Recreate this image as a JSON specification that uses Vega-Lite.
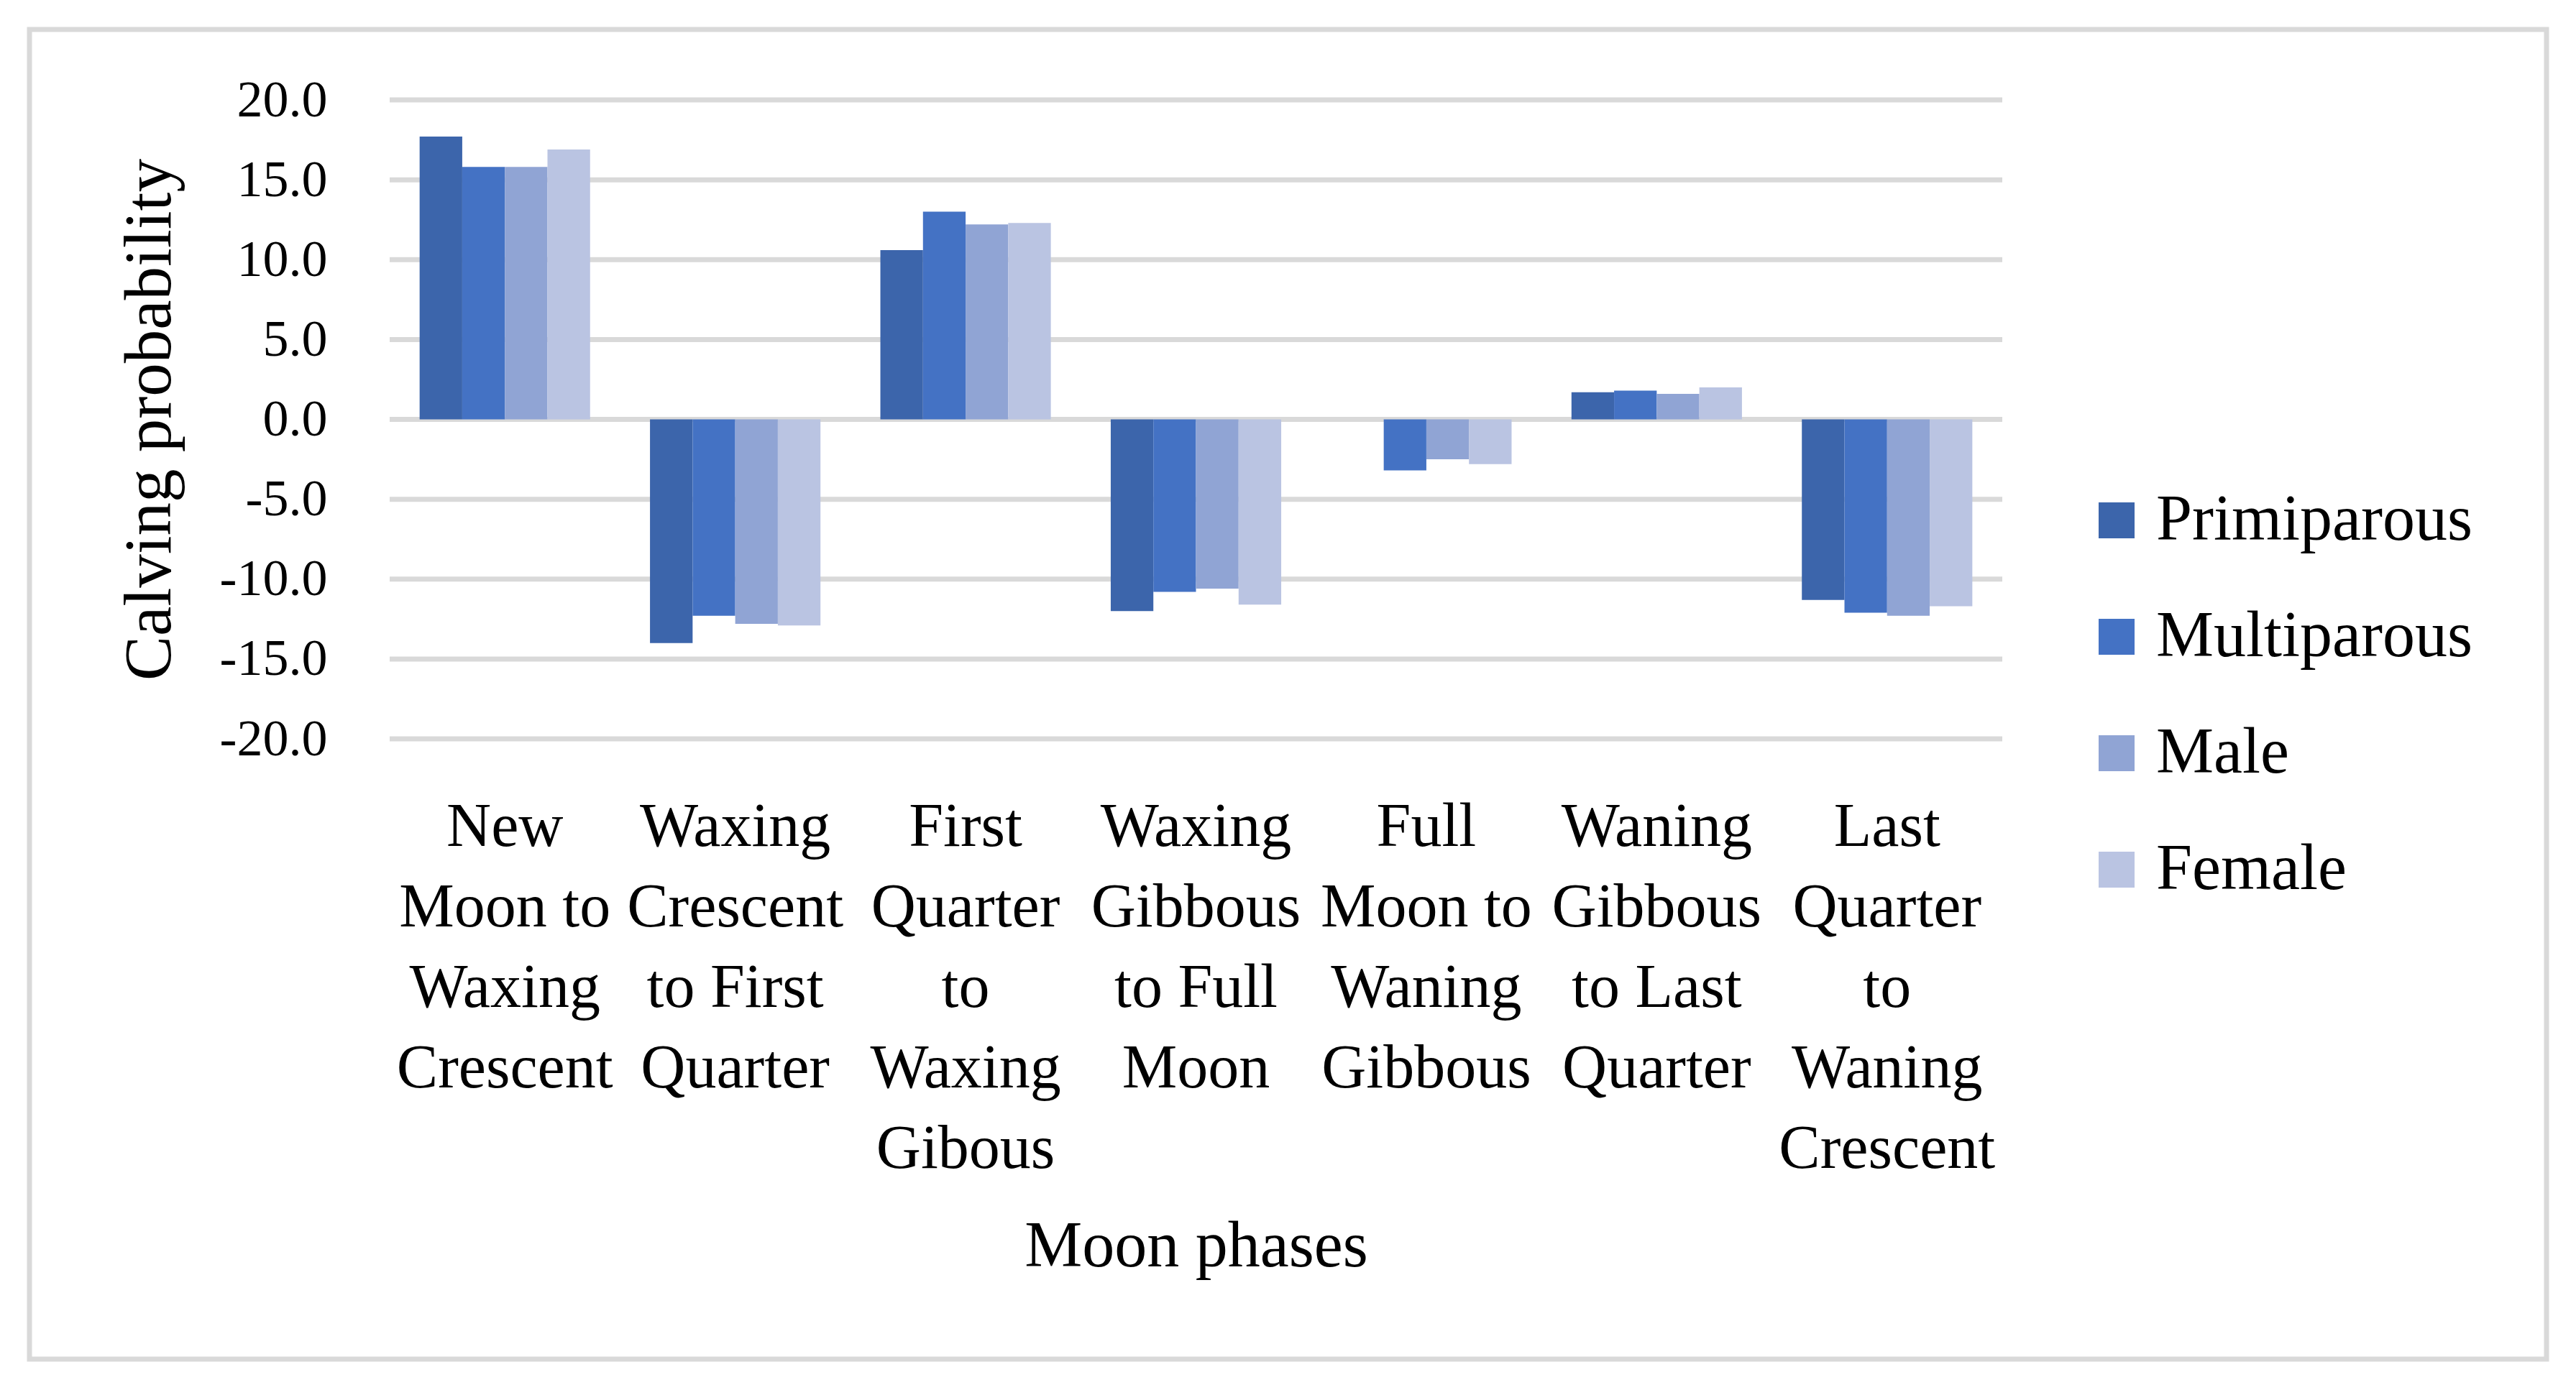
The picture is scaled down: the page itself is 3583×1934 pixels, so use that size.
{
  "$schema": "https://vega.github.io/schema/vega-lite/v6.json",
  "width": 3501,
  "height": 1850,
  "autosize": {"type": "none"},
  "padding": {"left": 41, "top": 41, "right": 41, "bottom": 43},
  "background": "white",
  "config": {
    "view": {"stroke": "#d9d9d9", "strokeWidth": 7},
    "axis": {
      "labelFont": "Liberation Serif",
      "titleFont": "Liberation Serif",
      "labelColor": "black",
      "titleColor": "black",
      "titleFontWeight": "normal",
      "domain": false,
      "ticks": false,
      "tickSize": 0,
      "grid": false
    },
    "legend": {
      "labelFont": "Liberation Serif",
      "labelColor": "black"
    }
  },
  "layer": [
    {
      "data": {"values": [
        {"tick": -20}, {"tick": -15}, {"tick": -10}, {"tick": -5}, {"tick": 0},
        {"tick": 5}, {"tick": 10}, {"tick": 15}, {"tick": 20}
      ]},
      "mark": {"type": "rule", "color": "#d9d9d9", "strokeWidth": 7},
      "encoding": {
        "y": {"field": "tick", "type": "quantitative",
              "scale": {"domain": [-20, 20], "range": [987, 98], "nice": false, "zero": false}},
        "x": {"datum": 0, "type": "quantitative",
              "scale": {"domain": [0, 1], "range": [501, 2744]}, "axis": null},
        "x2": {"datum": 1}
      }
    },
    {
      "data": {"values": [
        {"phase": "New Moon to Waxing Crescent", "group": "Primiparous", "value": 17.7},
        {"phase": "New Moon to Waxing Crescent", "group": "Multiparous", "value": 15.8},
        {"phase": "New Moon to Waxing Crescent", "group": "Male", "value": 15.8},
        {"phase": "New Moon to Waxing Crescent", "group": "Female", "value": 16.9},
        {"phase": "Waxing Crescent to First Quarter", "group": "Primiparous", "value": -14.0},
        {"phase": "Waxing Crescent to First Quarter", "group": "Multiparous", "value": -12.3},
        {"phase": "Waxing Crescent to First Quarter", "group": "Male", "value": -12.8},
        {"phase": "Waxing Crescent to First Quarter", "group": "Female", "value": -12.9},
        {"phase": "First Quarter to Waxing Gibous", "group": "Primiparous", "value": 10.6},
        {"phase": "First Quarter to Waxing Gibous", "group": "Multiparous", "value": 13.0},
        {"phase": "First Quarter to Waxing Gibous", "group": "Male", "value": 12.2},
        {"phase": "First Quarter to Waxing Gibous", "group": "Female", "value": 12.3},
        {"phase": "Waxing Gibbous to Full Moon", "group": "Primiparous", "value": -12.0},
        {"phase": "Waxing Gibbous to Full Moon", "group": "Multiparous", "value": -10.8},
        {"phase": "Waxing Gibbous to Full Moon", "group": "Male", "value": -10.6},
        {"phase": "Waxing Gibbous to Full Moon", "group": "Female", "value": -11.6},
        {"phase": "Full Moon to Waning Gibbous", "group": "Primiparous", "value": 0.0},
        {"phase": "Full Moon to Waning Gibbous", "group": "Multiparous", "value": -3.2},
        {"phase": "Full Moon to Waning Gibbous", "group": "Male", "value": -2.5},
        {"phase": "Full Moon to Waning Gibbous", "group": "Female", "value": -2.8},
        {"phase": "Waning Gibbous to Last Quarter", "group": "Primiparous", "value": 1.7},
        {"phase": "Waning Gibbous to Last Quarter", "group": "Multiparous", "value": 1.8},
        {"phase": "Waning Gibbous to Last Quarter", "group": "Male", "value": 1.6},
        {"phase": "Waning Gibbous to Last Quarter", "group": "Female", "value": 2.0},
        {"phase": "Last Quarter to Waning Crescent", "group": "Primiparous", "value": -11.3},
        {"phase": "Last Quarter to Waning Crescent", "group": "Multiparous", "value": -12.1},
        {"phase": "Last Quarter to Waning Crescent", "group": "Male", "value": -12.3},
        {"phase": "Last Quarter to Waning Crescent", "group": "Female", "value": -11.7}
      ]},
      "mark": {"type": "bar"},
      "encoding": {
        "x": {
          "field": "phase", "type": "nominal", "sort": null,
          "scale": {"range": [501, 2744], "paddingInner": 0.26, "paddingOuter": 0.13},
          "axis": {
            "orient": "bottom",
            "offset": -863,
            "title": "Moon phases",
            "titleFontSize": 90,
            "titlePadding": 462,
            "labelAngle": 0,
            "labelFontSize": 86,
            "labelLineHeight": 112,
            "labelBaseline": "top",
            "labelPadding": 80,
            "labelLimit": 0,
            "labelOverlap": false,
            "labelBound": false,
            "labelFlush": false,
            "labelExpr": "{'New Moon to Waxing Crescent': ['New','Moon to','Waxing','Crescent'], 'Waxing Crescent to First Quarter': ['Waxing','Crescent','to First','Quarter'], 'First Quarter to Waxing Gibous': ['First','Quarter','to','Waxing','Gibous'], 'Waxing Gibbous to Full Moon': ['Waxing','Gibbous','to Full','Moon'], 'Full Moon to Waning Gibbous': ['Full','Moon to','Waning','Gibbous'], 'Waning Gibbous to Last Quarter': ['Waning','Gibbous','to Last','Quarter'], 'Last Quarter to Waning Crescent': ['Last','Quarter','to','Waning','Crescent']}[datum.label]"
          }
        },
        "xOffset": {
          "field": "group", "type": "nominal",
          "scale": {"domain": ["Primiparous", "Multiparous", "Male", "Female"]}
        },
        "y": {
          "field": "value", "type": "quantitative",
          "scale": {"domain": [-20, 20], "range": [987, 98], "nice": false, "zero": false},
          "axis": {
            "orient": "left",
            "offset": -414,
            "values": [-20, -15, -10, -5, 0, 5, 10, 15, 20],
            "labelExpr": "replace(format(datum.value, '.1f'), '\u2212', '-')",
            "labelFontSize": 72,
            "labelPadding": 0,
            "labelOverlap": false,
            "labelBound": false,
            "labelFlush": false,
            "title": "Calving probability",
            "titleFontSize": 93,
            "titlePadding": 49
          }
        },
        "color": {
          "field": "group", "type": "nominal",
          "scale": {
            "domain": ["Primiparous", "Multiparous", "Male", "Female"],
            "range": ["#3C65AB", "#4472C4", "#90A4D4", "#BAC4E2"]
          },
          "legend": {
            "title": null,
            "orient": "none",
            "legendX": 2858,
            "legendY": 638,
            "direction": "vertical",
            "padding": 0,
            "symbolType": "square",
            "symbolSize": 2500,
            "symbolStrokeWidth": 0,
            "labelFontSize": 90,
            "labelOffset": 10,
            "rowPadding": 72,
            "labelLimit": 0
          }
        }
      }
    }
  ],
  "resolve": {"scale": {"x": "independent"}}
}
